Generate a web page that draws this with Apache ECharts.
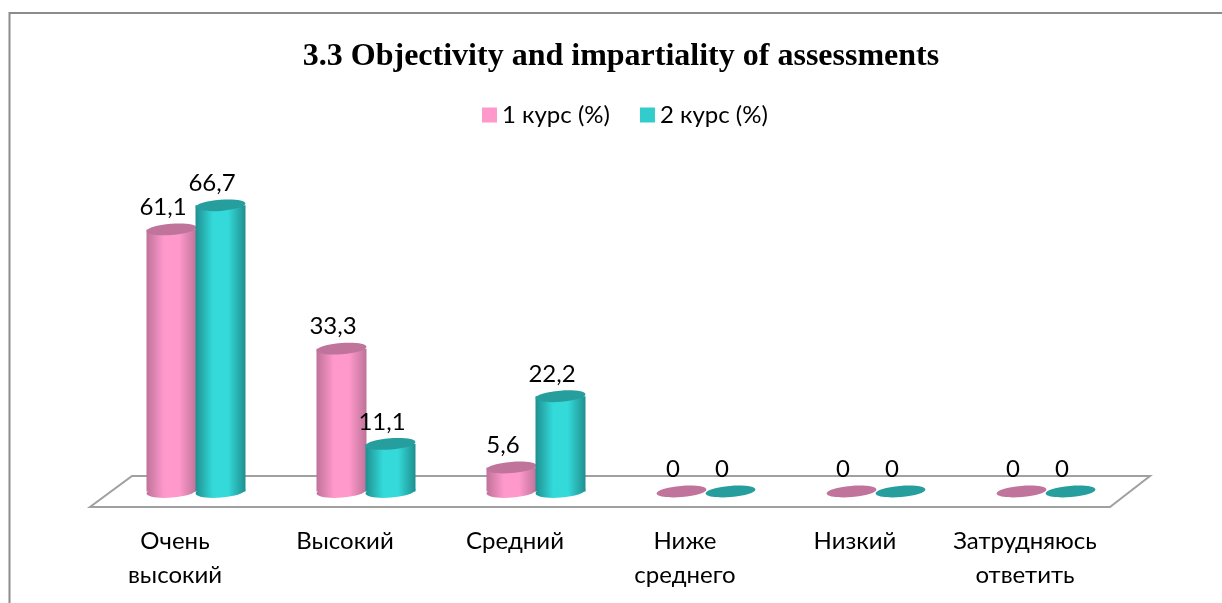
<!DOCTYPE html>
<html>
<head>
<meta charset="utf-8">
<script src="https://cdn.jsdelivr.net/npm/echarts@6/dist/echarts.min.js"></script>
<style>
html, body { margin: 0; padding: 0; background: #fff; }
#chart { width: 1222px; height: 603px; }
</style>
</head>
<body>
<div id="chart"></div>
<script>
const categories = ['Очень\nвысокий', 'Высокий', 'Средний', 'Ниже\nсреднего', 'Низкий', 'Затрудняюсь\nответить'];
const course1 = [61.1, 33.3, 5.6, 0, 0, 0];
const course2 = [66.7, 11.1, 22.2, 0, 0, 0];

const chart = echarts.init(document.getElementById('chart'));

// цилиндр: тело с градиентом, низ и верх - наклонные эллипсы
function cylinder(offset, edge, mid, topColor) {
  return function (params, api) {
    const idx = api.value(0);
    const val = api.value(1);
    const top = api.coord([idx, val]);
    const base = api.coord([idx, 0]);
    const cx = top[0] + offset;
    const rx = 25;
    const ry = 5.6;
    const tilt = 0.08;
    const fill = new echarts.graphic.LinearGradient(0, 0, 1, 0, [
      { offset: 0, color: edge },
      { offset: 0.35, color: mid },
      { offset: 0.65, color: mid },
      { offset: 1, color: edge },
    ]);
    const children = [];
    if (val > 0) {
      children.push({
        type: 'ellipse',
        shape: { cx: cx, cy: base[1], rx: rx, ry: ry + 0.5 },
        originX: cx, originY: base[1], rotation: tilt,
        style: { fill: fill },
      });
      children.push({
        type: 'rect',
        shape: { x: cx - rx, y: top[1], width: rx * 2, height: base[1] - top[1] },
        style: { fill: fill },
      });
    }
    children.push({
      type: 'ellipse',
      shape: { cx: cx, cy: top[1], rx: rx, ry: ry },
      originX: cx, originY: top[1], rotation: tilt,
      style: { fill: topColor },
    });
    children.push({
      type: 'text',
      style: {
        text: String(val).replace('.', ','),
        x: cx - 8.5,
        y: top[1] - 22,
        align: 'center',
        verticalAlign: 'middle',
        fill: '#000',
        fontSize: 24,
        fontFamily: 'Lato, "Noto Sans", sans-serif',
      },
    });
    return { type: 'group', children: children };
  };
}

const option = {
  animation: false,
  backgroundColor: '#fff',
  title: {
    text: '3.3 Objectivity and impartiality of assessments',
    left: 616,
    top: 36,
    textAlign: 'center',
    textStyle: { fontFamily: '"Liberation Serif", serif', fontWeight: 'bold', fontSize: 32, color: '#000' },
  },
  legend: {
    top: 98,
    left: 477,
    itemWidth: 15,
    itemHeight: 15,
    itemGap: 30,
    icon: 'rect',
    textStyle: { fontFamily: 'Lato, "Noto Sans", sans-serif', fontSize: 24, color: '#000' },
    data: ['1 курс (%)', '2 курс (%)'],
  },
  grid: { left: 90, width: 1020, top: 62.5, height: 429 },
  xAxis: {
    type: 'category',
    data: categories,
    axisLine: { show: false },
    axisTick: { show: false },
    axisLabel: {
      margin: 33,
      interval: 0,
      color: '#000',
      fontSize: 24,
      lineHeight: 34,
      fontFamily: 'Lato, "Noto Sans", sans-serif',
    },
  },
  yAxis: { type: 'value', min: 0, max: 100, show: false },
  graphic: [
    {
      type: 'rect',
      z: 0,
      shape: { x: 9.5, y: 13, width: 1300, height: 700 },
      style: { fill: 'none', stroke: '#8c8c8c', lineWidth: 2 },
    },
    {
      type: 'polygon',
      z: 0,
      shape: { points: [[90, 507], [1110, 507], [1150, 476], [132, 476]] },
      style: { fill: '#fff', stroke: '#a0a0a0', lineWidth: 2 },
    },
  ],
  series: [
    {
      name: '1 курс (%)',
      type: 'custom',
      itemStyle: { color: '#ff99cc' },
      renderItem: cylinder(-3.5, '#bf7299', '#ff99cc', '#c0749b'),
      data: course1.map((v, i) => [i, v]),
    },
    {
      name: '2 курс (%)',
      type: 'custom',
      itemStyle: { color: '#33cccc' },
      renderItem: cylinder(45.5, '#1f9090', '#34d9d9', '#269e9e'),
      data: course2.map((v, i) => [i, v]),
    },
  ],
};
chart.setOption(option);
</script>
</body>
</html>
